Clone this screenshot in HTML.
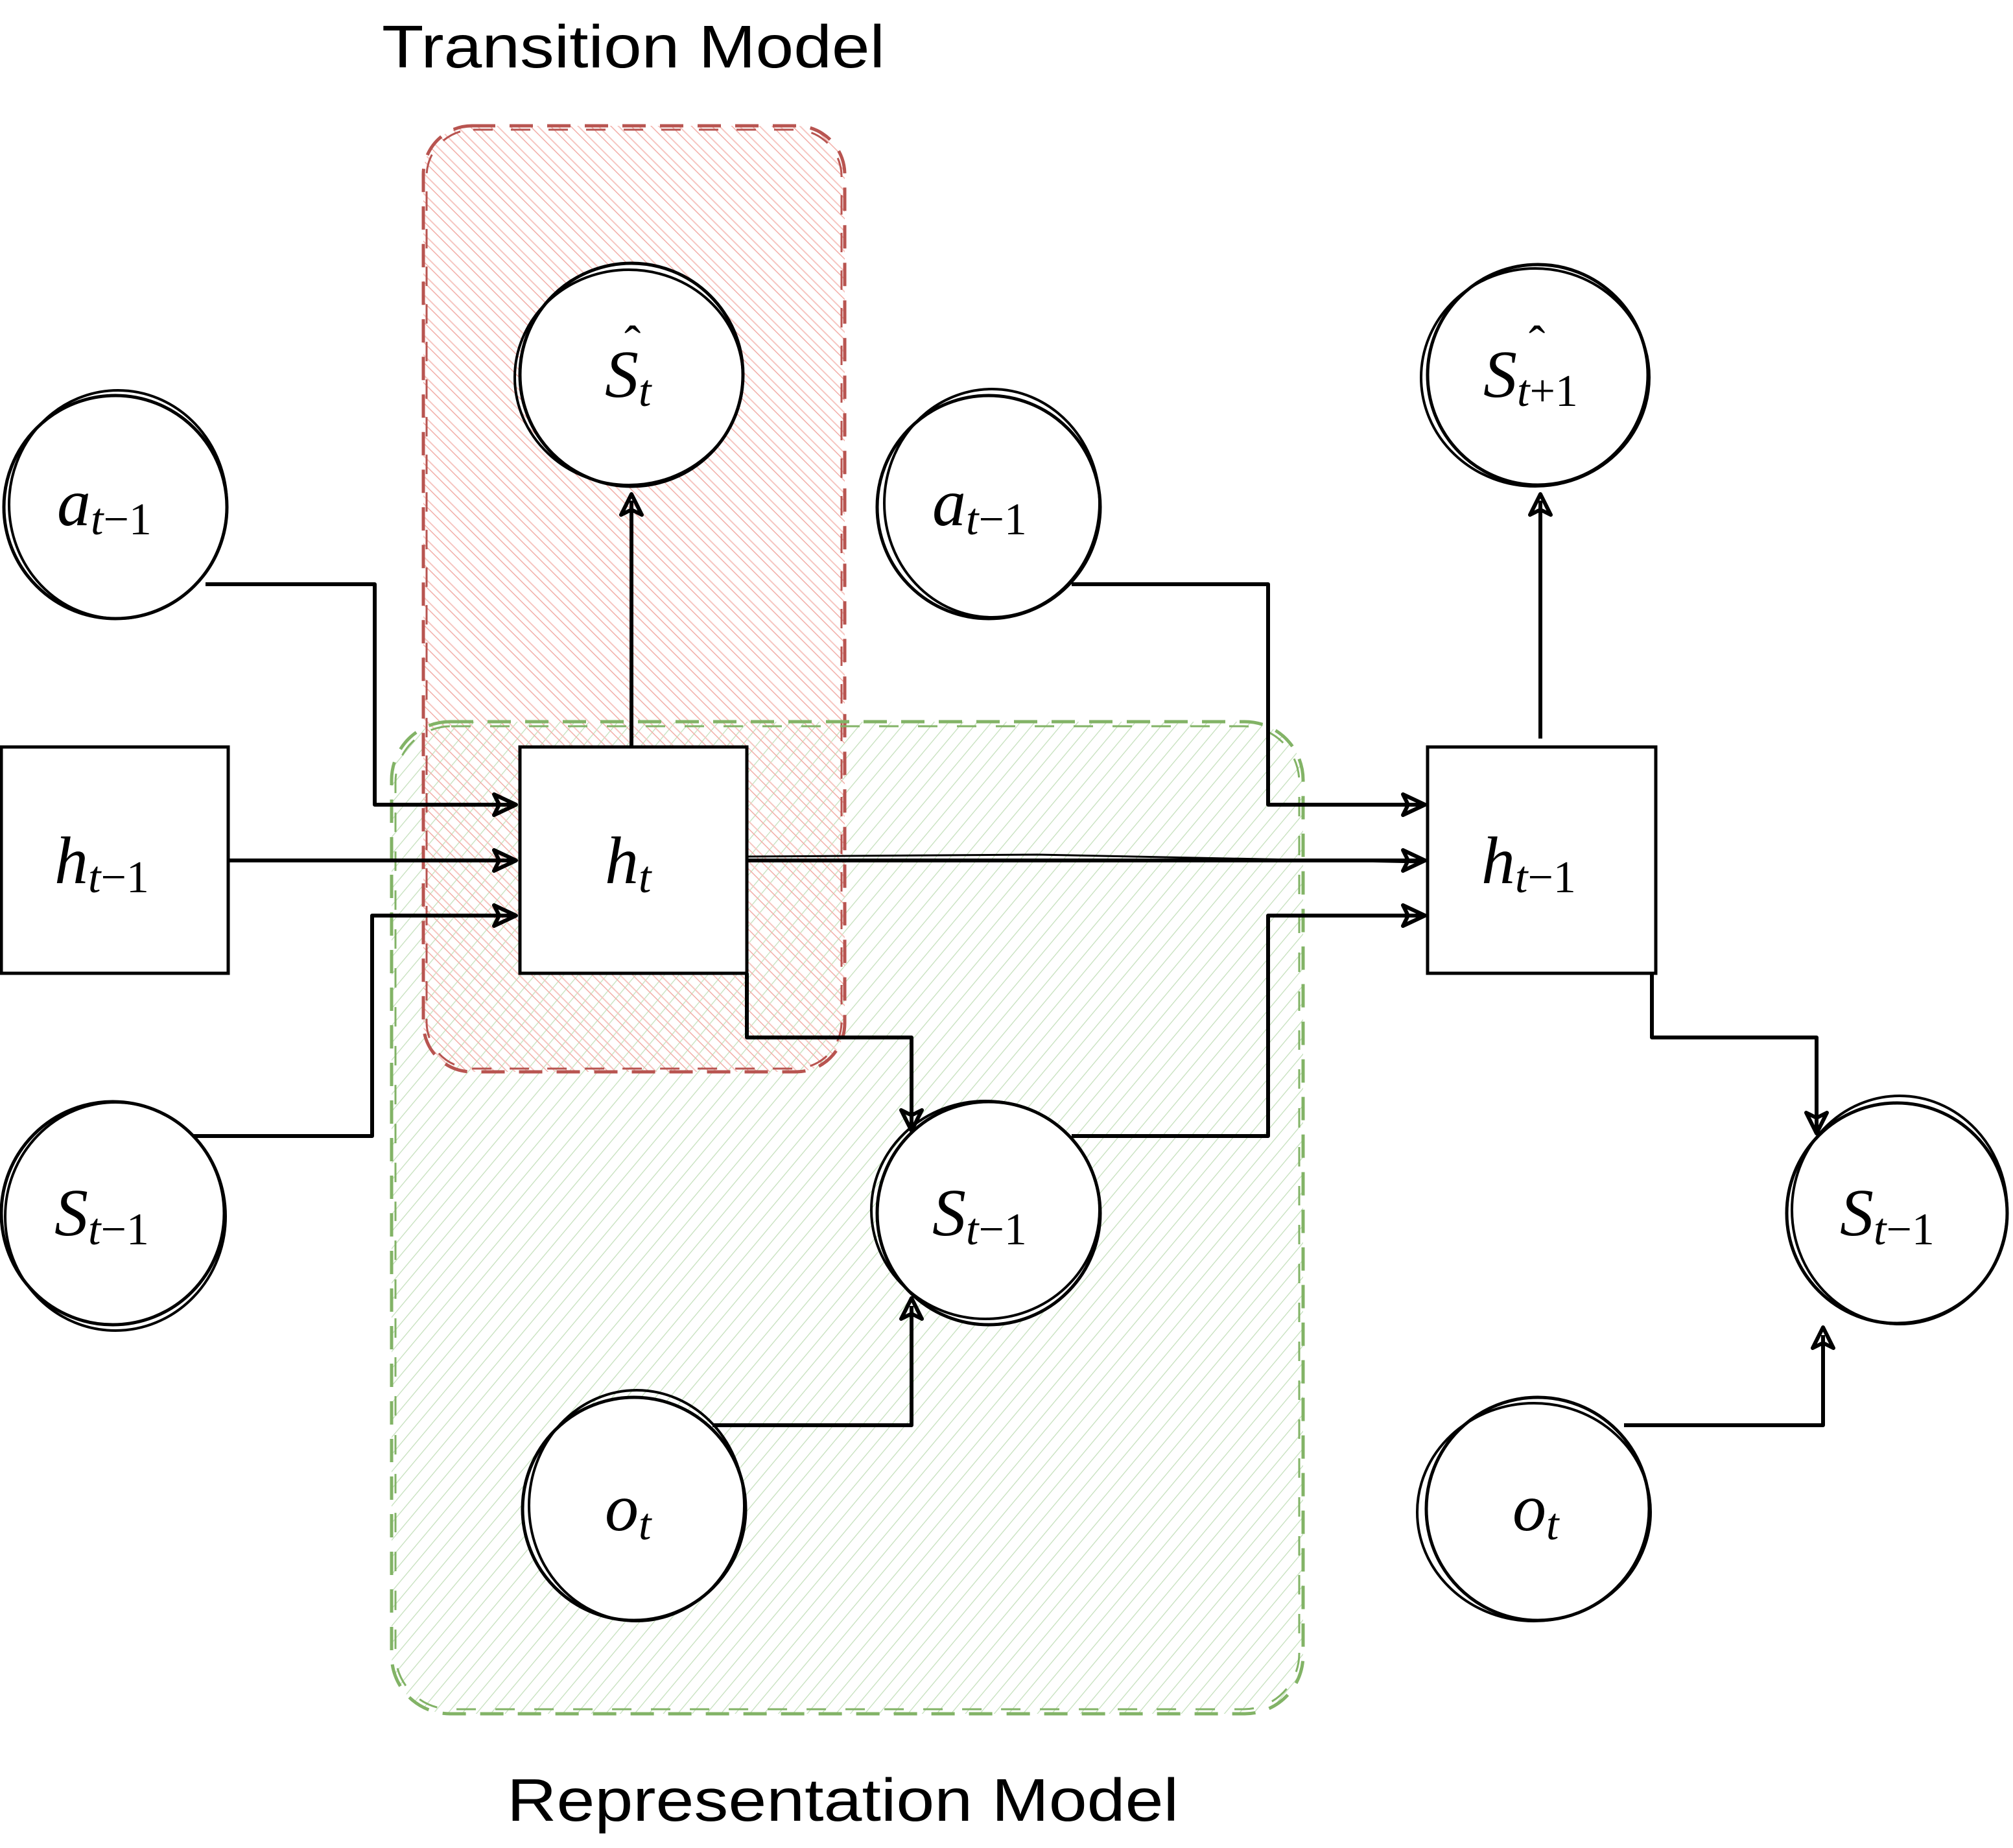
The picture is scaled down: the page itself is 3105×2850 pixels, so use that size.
<!DOCTYPE html>
<html><head><meta charset="utf-8"><style>
html,body{margin:0;padding:0;background:#fff;}
svg{display:block}
.t{font-family:"Liberation Sans","DejaVu Sans",sans-serif;font-size:93px;fill:#000}
.m{font-family:"Liberation Serif",serif;font-style:italic;font-size:104px;fill:#000}
.s{font-size:70px}
.n{font-style:normal}
</style></head><body>
<svg width="3105" height="2850" viewBox="0 0 3105 2850" xmlns="http://www.w3.org/2000/svg">
<defs>
<pattern id="red" patternUnits="userSpaceOnUse" width="22" height="22" patternTransform="rotate(-45)">
<line x1="0" y1="0" x2="0" y2="22" stroke="#f2aea8" stroke-width="3"/>
<line x1="9" y1="0" x2="9" y2="22" stroke="#f6c6c1" stroke-width="2"/>
</pattern>
<pattern id="green" patternUnits="userSpaceOnUse" width="17" height="17" patternTransform="rotate(40)">
<line x1="0" y1="0" x2="0" y2="17" stroke="#c3dfba" stroke-width="2.5"/>
</pattern>
</defs>

<rect x="604" y="1113" width="1406" height="1530" rx="90" fill="url(#green)"/>
<rect x="653" y="194" width="650" height="1459" rx="75" fill="url(#red)"/>
<rect x="653" y="194" width="650" height="1459" rx="75" fill="none" stroke="#b85450" stroke-width="5" stroke-dasharray="36 22"/>
<rect x="658" y="200" width="640" height="1448" rx="72" fill="none" stroke="#b85450" stroke-width="3" stroke-dasharray="30 28"/>
<rect x="604" y="1113" width="1406" height="1530" rx="90" fill="none" stroke="#82b366" stroke-width="5" stroke-dasharray="36 22"/>
<rect x="610" y="1120" width="1394" height="1516" rx="86" fill="none" stroke="#82b366" stroke-width="3" stroke-dasharray="30 30"/>

<text class="t" x="589" y="104" textLength="776" lengthAdjust="spacingAndGlyphs">Transition Model</text>
<text class="t" x="782" y="2808" textLength="1036" lengthAdjust="spacingAndGlyphs">Representation Model</text>

<g fill="none" stroke="#000" stroke-width="6" stroke-linejoin="round">
<polyline points="317,901 578,901 578,1241 792,1241"/>
<polyline points="352,1327 792,1327"/>
<polyline points="297,1752 574,1752 574,1412 792,1412"/>
<polyline points="974,1152 974,772"/>
<polyline points="1152,1327 2192,1327"/>
<polyline points="1153,1321 1600,1318 2192,1330" stroke-width="3"/>
<polyline points="1653,901 1956,901 1956,1241 2194,1241"/>
<polyline points="1653,1752 1956,1752 1956,1412 2194,1412"/>
<polyline points="1152,1501 1152,1600 1406,1600 1406,1738"/>
<polyline points="1099,2198 1406,2198 1406,2014"/>
<polyline points="2376,1139 2376,772"/>
<polyline points="2548,1501 2548,1600 2802,1600 2802,1742"/>
<polyline points="2505,2198 2812,2198 2812,2059"/>
<g stroke-width="6">
<path d="M762,1225 L796,1241 L762,1257 L770,1241 Z"/>
<path d="M762,1311 L796,1327 L762,1343 L770,1327 Z"/>
<path d="M762,1396 L796,1412 L762,1428 L770,1412 Z"/>
<path d="M2164,1225 L2198,1241 L2164,1257 L2172,1241 Z"/>
<path d="M2164,1311 L2198,1327 L2164,1343 L2172,1327 Z"/>
<path d="M2164,1396 L2198,1412 L2164,1428 L2172,1412 Z"/>
<path d="M958,794 L974,762 L990,794 L974,786 Z"/>
<path d="M2360,794 L2376,762 L2392,794 L2376,786 Z"/>
<path d="M1390,1712 L1406,1744 L1422,1712 L1406,1720 Z"/>
<path d="M1390,2034 L1406,2002 L1422,2034 L1406,2026 Z"/>
<path d="M2786,1716 L2802,1748 L2818,1716 L2802,1724 Z"/>
<path d="M2796,2079 L2812,2047 L2828,2079 L2812,2071 Z"/>
</g>
</g>

<g fill="#fff" stroke="#000" stroke-width="5">
<rect x="2" y="1152" width="350" height="349"/>
<rect x="802" y="1152" width="350" height="349"/>
<rect x="2202" y="1152" width="352" height="349"/>
<circle cx="178" cy="782" r="172"/>
<circle cx="974" cy="578" r="172"/>
<circle cx="1525" cy="782" r="172"/>
<circle cx="2372" cy="578" r="170"/>
<circle cx="174" cy="1871" r="172"/>
<circle cx="1525" cy="1871" r="172"/>
<circle cx="2926" cy="1871" r="170"/>
<circle cx="978" cy="2327" r="172"/>
<circle cx="2372" cy="2327" r="172"/>
</g>
<g fill="none" stroke="#000" stroke-width="4">
<ellipse cx="182" cy="778" rx="168" ry="176"/>
<ellipse cx="970" cy="582" rx="176" ry="166"/>
<ellipse cx="1530" cy="776" rx="166" ry="176"/>
<ellipse cx="2368" cy="582" rx="176" ry="168"/>
<ellipse cx="178" cy="1876" rx="170" ry="176"/>
<ellipse cx="1520" cy="1866" rx="176" ry="168"/>
<ellipse cx="2930" cy="1866" rx="166" ry="176"/>
<ellipse cx="982" cy="2322" rx="166" ry="178"/>
<ellipse cx="2366" cy="2332" rx="180" ry="168"/>
</g>

<text class="m" x="88" y="810">a<tspan class="s" dy="14">t</tspan><tspan class="s n">−1</tspan></text>
<text class="m" x="1438" y="810">a<tspan class="s" dy="14">t</tspan><tspan class="s n">−1</tspan></text>
<text class="m" x="84" y="1362">h<tspan class="s" dy="14">t</tspan><tspan class="s n">−1</tspan></text>
<text class="m" x="933" y="1362">h<tspan class="s" dy="14">t</tspan></text>
<text class="m" x="2285" y="1362">h<tspan class="s" dy="14">t</tspan><tspan class="s n">−1</tspan></text>
<text class="m" x="933" y="612">S<tspan class="s" dy="14">t</tspan></text>
<text class="m n" x="963" y="555" style="font-size:76px">ˆ</text>
<text class="m" x="2288" y="612">S<tspan class="s" dy="14">t</tspan><tspan class="s n">+1</tspan></text>
<text class="m n" x="2358" y="555" style="font-size:76px">ˆ</text>
<text class="m" x="84" y="1905">S<tspan class="s" dy="14">t</tspan><tspan class="s n">−1</tspan></text>
<text class="m" x="1438" y="1905">S<tspan class="s" dy="14">t</tspan><tspan class="s n">−1</tspan></text>
<text class="m" x="2838" y="1905">S<tspan class="s" dy="14">t</tspan><tspan class="s n">−1</tspan></text>
<text class="m" x="933" y="2360">o<tspan class="s" dy="14">t</tspan></text>
<text class="m" x="2333" y="2360">o<tspan class="s" dy="14">t</tspan></text>
</svg>
</body></html>
